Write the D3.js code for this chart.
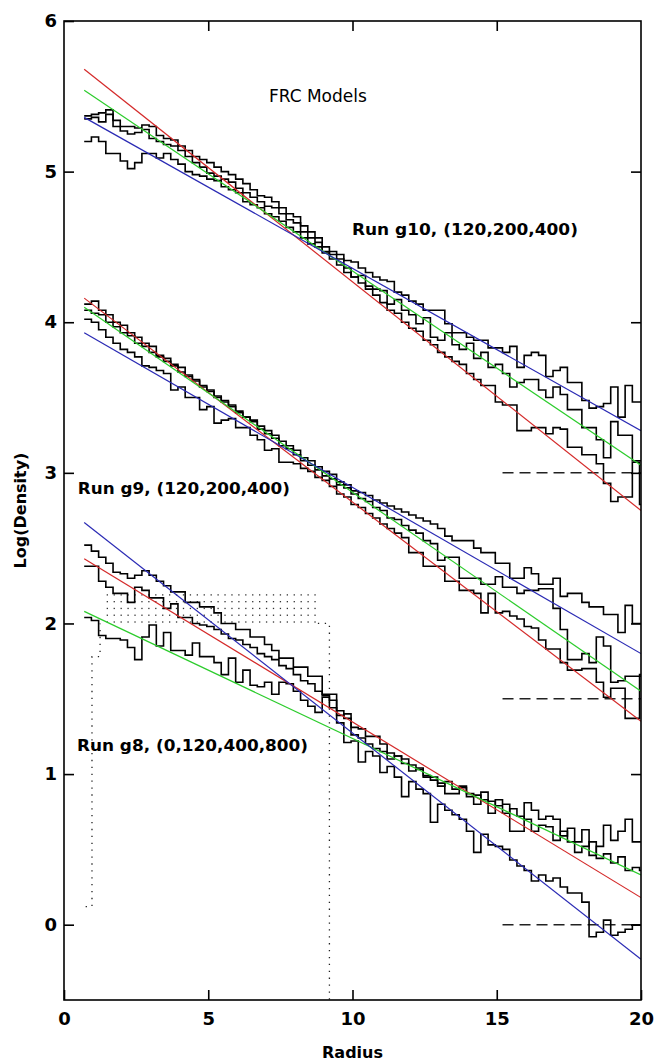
<!DOCTYPE html>
<html><head><meta charset="utf-8">
<script src="https://cdn.jsdelivr.net/npm/d3@7"></script>
<style>body{margin:0;background:#fff}svg{display:block}</style>
</head><body>
<svg id="chart" width="654" height="1064"></svg>
<script>
// ---------- DATA ----------
const binStart = 0.7, binWidth = 0.25;

// Run g10 histograms (log density per radial bin)
const g10A = [5.37,5.38,5.39,5.41,5.34,5.30,5.30,5.29,5.31,5.30,
  5.24,5.22,5.21,5.17,5.14,5.10,5.08,5.06,5.03,5.00,
  4.98,4.95,4.92,4.88,4.84,4.83,4.80,4.76,4.72,4.70,
  4.64,4.60,4.56,4.50,4.47,4.45,4.41,4.40,4.36,4.33,
  4.30,4.28,4.27,4.20,4.18,4.14,4.12,4.08,4.08,4.08,
  3.99,3.93,3.93,3.90,3.88,3.88,3.83,3.83,3.80,3.84,
  3.70,3.78,3.80,3.78,3.64,3.68,3.70,3.60,3.60,3.48,
  3.43,3.44,3.46,3.57,3.37,3.58,3.47,3.47];
const g10B = [5.35,5.36,5.33,5.38,5.30,5.27,5.25,5.26,5.28,5.22,
  5.20,5.18,5.17,5.14,5.10,5.06,5.03,4.99,4.97,4.95,
  4.93,4.89,4.86,4.83,4.80,4.77,4.76,4.72,4.68,4.66,
  4.60,4.56,4.53,4.47,4.45,4.42,4.36,4.30,4.31,4.24,
  4.22,4.21,4.12,4.15,4.08,4.05,3.99,4.03,3.90,3.88,
  3.93,3.85,3.82,3.86,3.76,3.80,3.70,3.72,3.66,3.57,
  3.60,3.62,3.62,3.55,3.50,3.57,3.52,3.42,3.42,3.30,
  3.30,3.22,3.10,3.34,3.25,3.25,3.08,3.08];
const g10C = [5.20,5.23,5.20,5.12,5.12,5.07,5.02,5.06,5.12,5.12,
  5.09,5.12,5.08,5.05,5.00,4.98,4.97,4.95,4.94,4.90,
  4.88,4.86,4.80,4.78,4.76,4.72,4.70,4.67,4.63,4.60,
  4.56,4.52,4.50,4.46,4.42,4.38,4.33,4.30,4.26,4.22,
  4.18,4.13,4.08,4.06,4.00,3.96,3.94,3.88,3.85,3.80,
  3.77,3.74,3.72,3.66,3.62,3.58,3.58,3.47,3.45,3.45,
  3.28,3.28,3.30,3.30,3.26,3.30,3.29,3.17,3.17,3.12,
  3.12,3.06,2.93,2.81,2.84,2.84,3.07,2.79];

// Run g9 histograms
const g9A = [4.12,4.14,4.08,4.05,4.00,3.98,3.93,3.90,3.86,3.84,
  3.78,3.76,3.72,3.70,3.65,3.61,3.58,3.54,3.51,3.47,
  3.45,3.40,3.37,3.34,3.29,3.26,3.23,3.18,3.16,3.12,
  3.08,3.05,3.02,2.98,2.96,2.94,2.92,2.88,2.87,2.85,
  2.82,2.80,2.78,2.76,2.74,2.72,2.70,2.68,2.66,2.63,
  2.58,2.55,2.55,2.55,2.50,2.47,2.47,2.40,2.40,2.30,
  2.30,2.37,2.33,2.26,2.26,2.30,2.18,2.20,2.20,2.14,
  2.11,2.11,2.06,2.06,1.94,2.12,2.00,2.00];
const g9B = [4.08,4.06,4.05,4.00,3.97,3.93,3.91,3.86,3.84,3.80,
  3.77,3.74,3.71,3.67,3.64,3.62,3.57,3.55,3.50,3.48,
  3.44,3.41,3.37,3.35,3.31,3.28,3.25,3.21,3.18,3.15,
  3.10,3.08,3.04,3.01,2.99,2.92,2.90,2.86,2.83,2.81,
  2.77,2.75,2.70,2.69,2.65,2.62,2.60,2.55,2.53,2.42,
  2.44,2.44,2.30,2.30,2.30,2.26,2.26,2.31,2.24,2.24,
  2.20,2.22,2.22,2.23,2.23,2.10,1.96,1.76,1.76,1.80,
  1.74,1.91,1.85,1.61,1.62,1.65,1.65,1.65];
const g9C = [4.02,4.00,3.95,3.90,3.86,3.82,3.80,3.77,3.71,3.70,
  3.68,3.66,3.55,3.57,3.50,3.50,3.42,3.44,3.33,3.35,
  3.36,3.30,3.30,3.25,3.22,3.15,3.16,3.07,3.07,3.06,
  3.03,3.01,2.97,2.95,2.91,2.86,2.84,2.79,2.77,2.73,
  2.70,2.66,2.63,2.60,2.57,2.47,2.47,2.38,2.38,2.38,
  2.28,2.28,2.22,2.22,2.20,2.07,2.20,2.07,2.08,2.05,
  2.03,1.98,1.97,1.89,1.83,1.83,1.74,1.69,1.69,1.70,
  1.70,1.61,1.51,1.57,1.57,1.37,1.37,1.66];

// Run g8 histograms
const g8A = [2.52,2.48,2.44,2.40,2.34,2.33,2.30,2.32,2.35,2.32,
  2.28,2.25,2.21,2.21,2.14,2.14,2.11,2.11,2.07,2.00,
  2.00,1.96,1.96,1.91,1.91,1.86,1.82,1.77,1.77,1.71,
  1.71,1.65,1.65,1.53,1.53,1.39,1.40,1.31,1.30,1.25,
  1.25,1.20,1.14,1.12,1.10,1.06,1.03,0.98,0.98,0.94,
  0.87,0.87,0.91,0.87,0.86,0.83,0.74,0.83,0.80,0.62,
  0.62,0.81,0.76,0.70,0.72,0.70,0.59,0.64,0.55,0.63,
  0.46,0.52,0.66,0.56,0.62,0.70,0.55,0.55];
const g8B = [2.38,2.38,2.28,2.24,2.20,2.20,2.14,2.24,2.22,2.17,
  2.17,2.10,2.13,2.04,2.04,2.00,1.99,1.98,1.96,1.93,
  1.90,1.89,1.86,1.84,1.80,1.78,1.76,1.72,1.70,1.66,
  1.62,1.60,1.55,1.52,1.44,1.42,1.37,1.26,1.24,1.20,
  1.17,1.15,1.10,1.12,1.07,1.02,1.04,0.99,0.96,0.92,
  0.95,0.90,0.92,0.85,0.80,0.88,0.82,0.79,0.74,0.77,
  0.72,0.70,0.62,0.66,0.65,0.56,0.62,0.55,0.48,0.52,
  0.55,0.44,0.47,0.41,0.45,0.36,0.38,0.36];
const g8C = [2.04,2.02,1.92,1.90,1.90,1.89,1.84,1.76,1.91,1.99,
  1.85,1.94,1.82,1.82,1.79,1.87,1.78,1.78,1.74,1.66,
  1.77,1.61,1.69,1.59,1.58,1.61,1.53,1.61,1.60,1.55,
  1.49,1.45,1.41,1.51,1.49,1.34,1.21,1.22,1.08,1.15,
  1.12,1.01,1.05,0.98,0.85,0.95,0.90,0.87,0.68,0.80,
  0.76,0.73,0.70,0.62,0.48,0.60,0.53,0.52,0.50,0.43,
  0.39,0.36,0.29,0.33,0.29,0.31,0.25,0.21,0.21,0.15,
  -0.08,-0.05,0.03,-0.07,-0.05,-0.03,0.00,0.00];

// Model fits: value at fitX[0] and fitX[1]
const fitX = [0.7, 20];
const g10Red = [5.68, 2.75], g10Green = [5.54, 3.05], g10Blue = [5.36, 3.28];
const g9Red = [4.16, 1.35],  g9Green = [4.10, 1.55],  g9Blue = [3.93, 1.80];
const g8Red = [2.43, 0.18],  g8Green = [2.08, 0.33],  g8Blue = [2.67, -0.23];

// Dashed reference levels
const refLevels = [3, 1.5, 0];
const refRange = [15.2, 20];

// Dotted outline (data units)
const dottedOutline = [[0.75,0.12],[0.97,0.12],[0.97,1.78],[1.25,1.78],[1.25,2.0]];
const dottedRight = [[8.8,2.0],[9.2,2.0],[9.2,-0.5]];
const dotGridX = [1.5, 8.8], dotGridY = [2.01, 2.19];

const xTicks = [0,5,10,15,20];
const yTicks = [0,1,2,3,4,5,6];

const runLabels = [
  {text:"Run g10, (120,200,400)", x:9.98, y:4.58, w:226},
  {text:"Run g9, (120,200,400)",  x:0.48, y:2.86, w:212},
  {text:"Run g8, (0,120,400,800)", x:0.45, y:1.15, w:231}
];
const title = "FRC Models";

// ---------- DRAW ----------
const svg = d3.select("#chart");
const x = d3.scaleLinear().domain([0,20]).range([64,641]);
const y = d3.scaleLinear().domain([-0.5,6]).range([1000,21]);
const FONT = "'DejaVu Sans', Arial, sans-serif";

svg.append("rect").attr("width",654).attr("height",1064).attr("fill","#fff");

svg.append("clipPath").attr("id","clip").append("rect")
  .attr("x",x(0)).attr("y",y(6)).attr("width",x(20)-x(0)).attr("height",y(-0.5)-y(6));

const plot = svg.append("g").attr("clip-path","url(#clip)");

// dotted structure
const lineXY = d3.line().x(d=>x(d[0])).y(d=>y(d[1]));
[dottedOutline, dottedRight].forEach(p=>{
  plot.append("path").attr("d",lineXY(p)).attr("fill","none")
    .attr("stroke","#222").attr("stroke-width",1.3)
    .attr("stroke-dasharray","1.3,5.6");
});
const gridXs = d3.range(dotGridX[0], dotGridX[1]+0.001, 0.24);
const gridYs = d3.range(dotGridY[0], dotGridY[1]+0.001, 0.045);
gridYs.forEach((gy,j)=>{
  gridXs.forEach(gx=>{
    plot.append("rect").attr("x",x(gx)-0.6).attr("y",y(gy)-0.6)
      .attr("width",1.3).attr("height",1.3).attr("fill","#333");
  });
});

// dashed reference levels
refLevels.forEach(v=>{
  plot.append("line").attr("x1",x(refRange[0])).attr("x2",x(refRange[1]))
    .attr("y1",y(v)).attr("y2",y(v))
    .attr("stroke","#222").attr("stroke-width",1.5).attr("stroke-dasharray","11,6");
});

// histograms
const stepLine = d3.line().x(d=>x(d[0])).y(d=>y(d[1])).curve(d3.curveStepAfter);
[g10A,g10B,g10C,g9A,g9B,g9C,g8A,g8B,g8C].forEach(vals=>{
  const pts = vals.map((v,i)=>[binStart+i*binWidth, v]);
  pts.push([binStart+vals.length*binWidth, vals[vals.length-1]]);
  plot.append("path").attr("d",stepLine(pts)).attr("fill","none")
    .attr("stroke","#000").attr("stroke-width",1.6);
});

// fits
const fits = [
  [g10Red,"#d42a2a"],[g10Green,"#2ccc2c"],[g10Blue,"#2a2ab4"],
  [g9Red,"#d42a2a"],[g9Green,"#2ccc2c"],[g9Blue,"#2a2ab4"],
  [g8Red,"#d42a2a"],[g8Green,"#2ccc2c"],[g8Blue,"#2a2ab4"]
];
fits.forEach(([vals,col])=>{
  plot.append("line").attr("x1",x(fitX[0])).attr("x2",x(fitX[1]))
    .attr("y1",y(vals[0])).attr("y2",y(vals[1]))
    .attr("stroke",col).attr("stroke-width",1.2);
});

// frame
svg.append("rect").attr("x",x(0)).attr("y",y(6)).attr("width",x(20)-x(0))
  .attr("height",y(-0.5)-y(6)).attr("fill","none").attr("stroke","#000").attr("stroke-width",1.6);

// axes
function styleAxis(g){
  g.select(".domain").remove();
  g.selectAll(".tick line").attr("stroke","#000").attr("stroke-width",1.6);
  g.selectAll(".tick text").attr("font-family",FONT).attr("font-weight","bold")
    .attr("font-size",18).attr("fill","#000");
}
svg.append("g").attr("transform",`translate(0,${y(-0.5)})`)
  .call(d3.axisBottom(x).tickValues(xTicks).tickSize(-10).tickPadding(12).tickFormat(d3.format("d")))
  .call(styleAxis);
svg.append("g").attr("transform",`translate(0,${y(6)})`)
  .call(d3.axisTop(x).tickValues(xTicks.slice(1,-1)).tickSize(-10).tickFormat(""))
  .call(styleAxis);
svg.append("g").attr("transform",`translate(${x(0)},0)`)
  .call(d3.axisLeft(y).tickValues(yTicks).tickSize(-10).tickPadding(7).tickFormat(d3.format("d")))
  .call(styleAxis);
svg.append("g").attr("transform",`translate(${x(20)},0)`)
  .call(d3.axisRight(y).tickValues(yTicks.slice(0,-1)).tickSize(-10).tickFormat(""))
  .call(styleAxis);

// axis titles
svg.append("text").attr("x",(x(0)+x(20))/2).attr("y",1058).attr("text-anchor","middle")
  .attr("font-family",FONT).attr("font-weight","bold").attr("font-size",16).text("Radius");
svg.append("text").attr("transform",`translate(26,${(y(6)+y(-0.5))/2}) rotate(-90)`)
  .attr("text-anchor","middle").attr("font-family",FONT).attr("font-weight","bold")
  .attr("font-size",16).text("Log(Density)");

// title
svg.append("text").attr("x",x(8.8)).attr("y",y(5.46)).attr("text-anchor","middle")
  .attr("font-family",FONT).attr("font-size",17).attr("fill","#000").text(title);

// run labels
runLabels.forEach(l=>{
  svg.append("text").attr("x",x(l.x)).attr("y",y(l.y))
    .attr("font-family",FONT).attr("font-weight","bold").attr("font-size",15.5)
    .attr("textLength",l.w).attr("lengthAdjust","spacingAndGlyphs").text(l.text);
});
</script>
</body></html>
